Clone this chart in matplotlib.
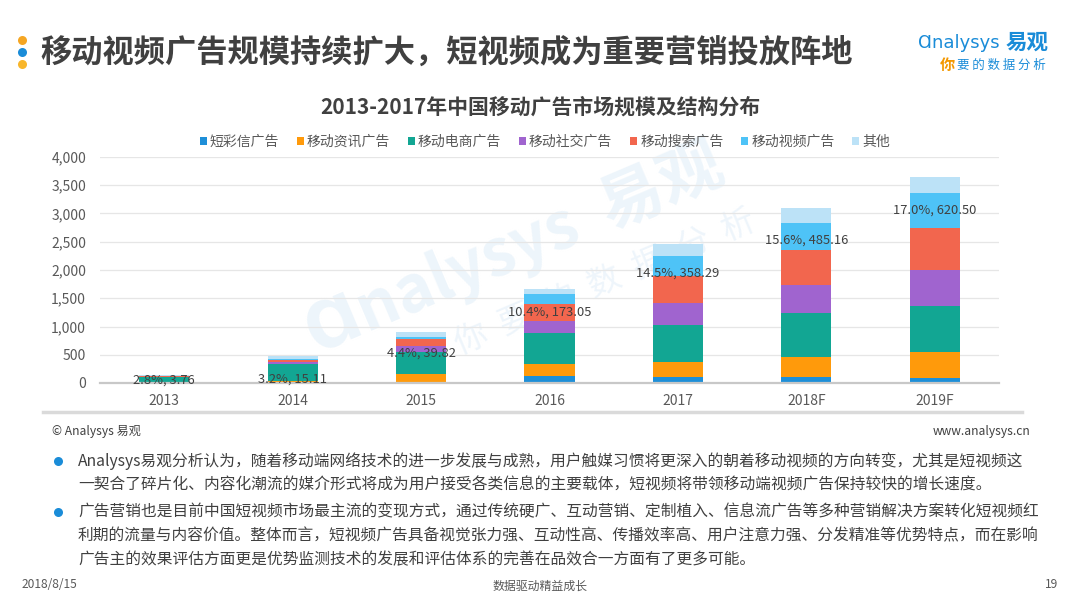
import matplotlib
matplotlib.use('Agg')
import matplotlib.pyplot as plt
from matplotlib.patches import Patch
from matplotlib.lines import Line2D
import numpy as np

plt.rcParams['font.family'] = ['Noto Sans CJK SC', 'DejaVu Sans']

# ---------------- data ----------------
years = ['2013', '2014', '2015', '2016', '2017', '2018F', '2019F']
series_names = ['短彩信广告', '移动资讯广告', '移动电商广告', '移动社交广告',
                '移动搜索广告', '移动视频广告', '其他']
sms = [5, 10, 20, 117, 100, 100, 82]
news = [10, 20, 135, 211, 275, 363, 458]
ecommerce = [90, 305, 400, 552, 651, 780, 821]
social = [8, 40, 100, 223, 393, 499, 633]
search = [6, 35, 125, 297, 470, 604, 745]
video = [3.76, 15.11, 39.82, 173.05, 358.29, 485.16, 620.50]
other = [11, 47, 85, 91, 215, 275, 290]
video_share = ['2.8%', '3.2%', '4.4%', '10.4%', '14.5%', '15.6%', '17.0%']
label_anchor = [55, 65, 530, 1262, 1947, 2531, 3062]   # where the label sits (value axis)
y_ticks = [0, 500, 1000, 1500, 2000, 2500, 3000, 3500, 4000]

colors = ['#1E8FD8', '#FF9A0B', '#12A693', '#A064CF', '#F2664E', '#4EC3F7', '#BCE2F7']

W, H = 1080, 608
fig = plt.figure(figsize=(W / 100, H / 100), dpi=100)
fig.patch.set_facecolor('white')


def fx(x):
    return x / W


def fy(y):
    return 1 - y / H


# ---------------- watermark ----------------
fig.text(fx(515), fy(250), 'Ɑnalysys  易观', rotation=23, fontsize=46,
         color='#edf5fb', ha='center', va='center', zorder=-5, fontweight='bold')
fig.text(fx(605), fy(282), '你  要  的  数  据  分  析', rotation=23, fontsize=24,
         color='#eef5fb', ha='center', va='center', zorder=-5)

# ---------------- chart ----------------
ax = fig.add_axes([fx(100), fy(383), (999 - 100) / W, (383 - 157) / H])
ax.set_facecolor('none')
x = np.arange(len(years))
bottom = np.zeros(len(years))
all_series = [sms, news, ecommerce, social, search, video, other]
for name, vals, c in zip(series_names, all_series, colors):
    vals = np.array(vals, dtype=float)
    ax.bar(x, vals, width=0.39, bottom=bottom, color=c, label=name, zorder=3,
           linewidth=0)
    bottom += vals

for i in range(len(years)):
    ax.text(x[i], label_anchor[i], f'{video_share[i]}, {video[i]:.2f}',
            ha='center', va='center', fontsize=9.3, color='#404040', zorder=6)

ax.set_xlim(-0.5, len(years) - 0.5)
ax.set_ylim(0, 4000)
ax.set_yticks(y_ticks)
ax.set_yticklabels([f'{v:,}' for v in y_ticks])
ax.set_xticks(x)
ax.set_xticklabels(years)
ax.grid(axis='y', color='#e6e6e6', lw=0.9, zorder=0)
ax.set_axisbelow(True)
for s in ['top', 'right', 'left']:
    ax.spines[s].set_visible(False)
ax.spines['bottom'].set_color('#c8c8c8')
ax.spines['bottom'].set_linewidth(1.6)
ax.spines['bottom'].set_zorder(4)
ax.tick_params(axis='y', length=0, labelsize=10, colors='#595959', pad=10)
ax.tick_params(axis='x', length=0, labelsize=10, colors='#595959', pad=8)

# legend
handles = [Patch(facecolor=c, edgecolor='none') for c in colors]
fig.legend(handles, series_names, loc='center', bbox_to_anchor=(fx(545), fy(142)),
           ncol=7, frameon=False, fontsize=10, handlelength=0.5, handleheight=0.5,
           handletextpad=0.2, columnspacing=1.3, borderpad=0, labelcolor='#595959')

# ---------------- titles ----------------
fig.text(fx(40), fy(53), '移动视频广告规模持续扩大，短视频成为重要营销投放阵地',
         fontsize=22.5, fontweight='bold', color='#404040', ha='left', va='center')
for yy, cc in [(40, '#F5A623'), (52, '#1A8CD8'), (64, '#F8B62B')]:
    fig.add_artist(Line2D([fx(22)], [fy(yy)], marker='o', markersize=6.5,
                          color=cc, markeredgewidth=0, transform=fig.transFigure))

fig.text(fx(540), fy(107), '2013-2017年中国移动广告市场规模及结构分布',
         fontsize=15, fontweight='bold', color='#404040', ha='center', va='center')

# logo
fig.text(fx(1000), fy(43), 'Ɑnalysys', fontsize=13, color='#1A8CD8',
         ha='right', va='center', family=['DejaVu Sans'])
fig.text(fx(1006), fy(42), '易观', fontsize=15.5, fontweight='bold', color='#1A8CD8',
         ha='left', va='center')
fig.text(fx(940), fy(65), '你', fontsize=11, color='#F39800', ha='left', va='center',
         fontweight='bold')
fig.text(fx(957), fy(65), '要 的 数 据 分 析', fontsize=9, color='#1A8CD8',
         ha='left', va='center')

# ---------------- lower section ----------------
fig.add_artist(Line2D([fx(43), fx(1022)], [fy(412), fy(412)], color='#dadada', lw=2.5,
                      transform=fig.transFigure))
fig.text(fx(52), fy(431), '© Analysys 易观', fontsize=8.7, color='#404040',
         ha='left', va='center')
fig.text(fx(1030), fy(431), 'www.analysys.cn', fontsize=8.7, color='#404040',
         ha='right', va='center')

bullet_lines = [
    'Analysys易观分析认为，随着移动端网络技术的进一步发展与成熟，用户触媒习惯将更深入的朝着移动视频的方向转变，尤其是短视频这',
    '一契合了碎片化、内容化潮流的媒介形式将成为用户接受各类信息的主要载体，短视频将带领移动端视频广告保持较快的增长速度。',
    '广告营销也是目前中国短视频市场最主流的变现方式，通过传统硬广、互动营销、定制植入、信息流广告等多种营销解决方案转化短视频红',
    '利期的流量与内容价值。整体而言，短视频广告具备视觉张力强、互动性高、传播效率高、用户注意力强、分发精准等优势特点，而在影响',
    '广告主的效果评估方面更是优势监测技术的发展和评估体系的完善在品效合一方面有了更多可能。',
]
line_y = [461, 485, 512, 536, 560]
for t, yy in zip(bullet_lines, line_y):
    fig.text(fx(78), fy(yy), t, fontsize=11.3, color='#404040', ha='left', va='center')
for yy in [461, 512]:
    fig.add_artist(Line2D([fx(58)], [fy(yy)], marker='o', markersize=6.5,
                          color='#1A8CD8', markeredgewidth=0, transform=fig.transFigure))

fig.text(fx(22), fy(585), '2018/8/15', fontsize=8.6, color='#595959', ha='left', va='center')
fig.text(fx(540), fy(586), '数据驱动精益成长', fontsize=8.6, color='#595959',
         ha='center', va='center')
fig.text(fx(1058), fy(585), '19', fontsize=8.6, color='#595959', ha='right', va='center')

fig.savefig('out.png', dpi=100, facecolor='white')
